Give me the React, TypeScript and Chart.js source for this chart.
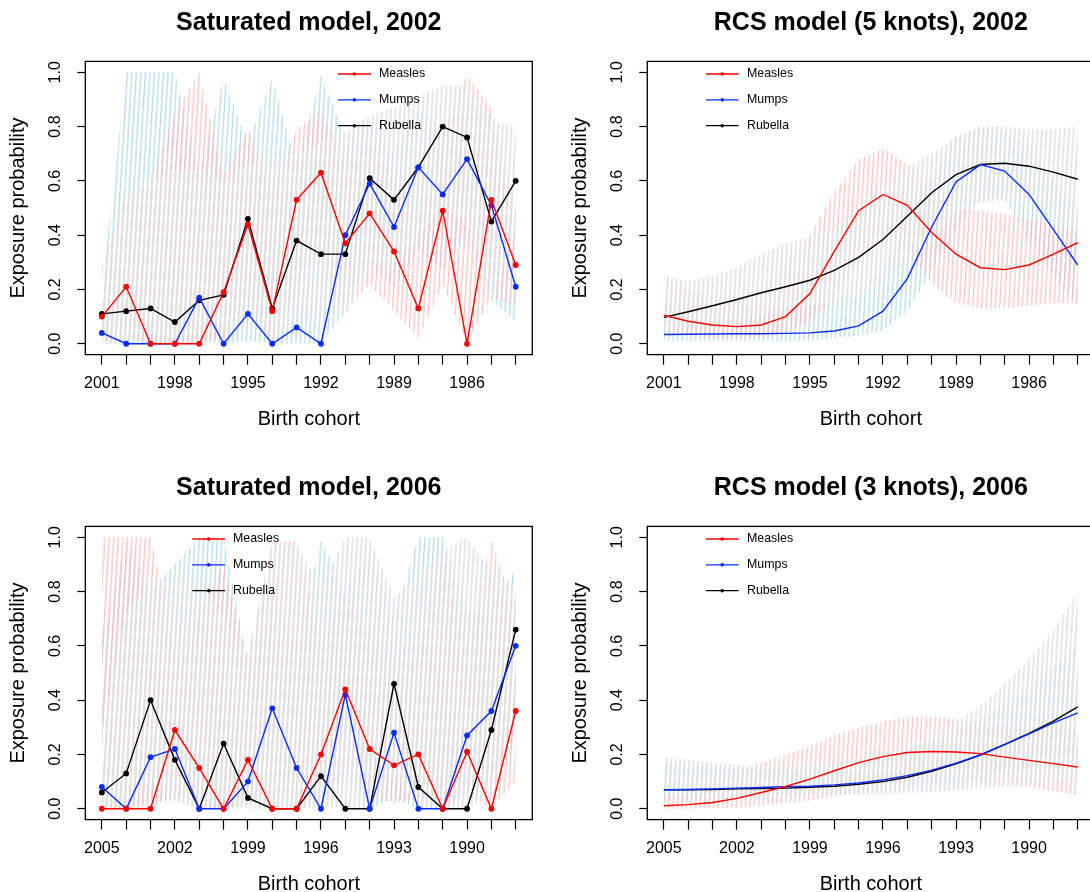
import React, { useEffect, useRef } from "react";
import { Chart, registerables } from "chart.js";

Chart.register(...registerables);

// ---------------- categories / ticks ----------------
const cohorts2002 = [2001, 2000, 1999, 1998, 1997, 1996, 1995, 1994, 1993, 1992, 1991, 1990, 1989, 1988, 1987, 1986, 1985, 1984];
const cohorts2006 = [2005, 2004, 2003, 2002, 2001, 2000, 1999, 1998, 1997, 1996, 1995, 1994, 1993, 1992, 1991, 1990, 1989, 1988];
const yTickValues = [0, 0.2, 0.4, 0.6, 0.8, 1.0];
const seriesNames = ["Measles", "Mumps", "Rubella"];

// ---------------- Saturated model, 2002 ----------------
const sat02Measles = [0.10, 0.21, 0.00, 0.00, 0.00, 0.19, 0.44, 0.12, 0.53, 0.63, 0.37, 0.48, 0.34, 0.13, 0.49, 0.00, 0.53, 0.29];
const sat02Mumps = [0.04, 0.00, 0.00, 0.00, 0.17, 0.00, 0.11, 0.00, 0.06, 0.00, 0.40, 0.59, 0.43, 0.65, 0.55, 0.68, 0.51, 0.21];
const sat02Rubella = [0.11, 0.12, 0.13, 0.08, 0.16, 0.18, 0.46, 0.13, 0.38, 0.33, 0.33, 0.61, 0.53, 0.65, 0.80, 0.76, 0.45, 0.60];
const sat02MeaslesLo = [0.01, 0.03, 0.00, 0.00, 0.00, 0.02, 0.16, 0.01, 0.22, 0.35, 0.12, 0.22, 0.12, 0.02, 0.22, 0.00, 0.17, 0.14];
const sat02MeaslesHi = [0.29, 0.55, 0.58, 0.85, 1.00, 0.62, 0.80, 0.55, 0.79, 0.86, 0.66, 0.75, 0.62, 0.45, 0.78, 0.99, 0.87, 0.50];
const sat02MumpsLo = [0.00, 0.00, 0.00, 0.00, 0.01, 0.00, 0.01, 0.00, 0.00, 0.00, 0.12, 0.30, 0.20, 0.35, 0.27, 0.40, 0.16, 0.08];
const sat02MumpsHi = [0.20, 1.00, 1.00, 1.00, 0.62, 0.98, 0.74, 0.98, 0.66, 0.99, 0.76, 0.82, 0.70, 0.86, 0.80, 0.88, 0.84, 0.42];
const sat02RubellaLo = [0.02, 0.03, 0.04, 0.02, 0.04, 0.05, 0.15, 0.02, 0.10, 0.08, 0.10, 0.30, 0.28, 0.40, 0.50, 0.45, 0.16, 0.40];
const sat02RubellaHi = [0.28, 0.55, 0.60, 0.64, 0.63, 0.60, 0.66, 0.68, 0.70, 0.74, 0.78, 0.84, 0.87, 0.91, 0.95, 0.95, 0.82, 0.80];

// ---------------- RCS model (5 knots), 2002 ----------------
const rcs02Measles = [0.105, 0.083, 0.069, 0.063, 0.069, 0.10, 0.185, 0.34, 0.49, 0.55, 0.51, 0.41, 0.33, 0.28, 0.273, 0.29, 0.33, 0.372];
const rcs02Mumps = [0.034, 0.035, 0.036, 0.037, 0.037, 0.038, 0.040, 0.047, 0.066, 0.12, 0.24, 0.43, 0.596, 0.66, 0.636, 0.55, 0.42, 0.29];
const rcs02Rubella = [0.097, 0.118, 0.14, 0.163, 0.188, 0.21, 0.234, 0.27, 0.318, 0.384, 0.47, 0.556, 0.623, 0.66, 0.665, 0.654, 0.632, 0.606];
const rcs02MeaslesLo = [0.05, 0.03, 0.02, 0.02, 0.02, 0.04, 0.08, 0.17, 0.29, 0.38, 0.35, 0.22, 0.15, 0.13, 0.13, 0.14, 0.15, 0.15];
const rcs02MeaslesHi = [0.26, 0.20, 0.18, 0.18, 0.20, 0.28, 0.40, 0.56, 0.68, 0.72, 0.66, 0.58, 0.50, 0.49, 0.48, 0.46, 0.44, 0.42];
const rcs02MumpsLo = [0.01, 0.01, 0.01, 0.01, 0.01, 0.01, 0.01, 0.02, 0.03, 0.05, 0.12, 0.26, 0.42, 0.53, 0.53, 0.38, 0.25, 0.14];
const rcs02MumpsHi = [0.13, 0.13, 0.13, 0.13, 0.13, 0.14, 0.15, 0.16, 0.19, 0.28, 0.45, 0.62, 0.76, 0.80, 0.78, 0.72, 0.60, 0.50];
const rcs02RubellaLo = [0.05, 0.06, 0.07, 0.08, 0.10, 0.12, 0.14, 0.15, 0.18, 0.22, 0.30, 0.40, 0.48, 0.52, 0.53, 0.52, 0.48, 0.42];
const rcs02RubellaHi = [0.25, 0.23, 0.25, 0.28, 0.33, 0.37, 0.39, 0.43, 0.50, 0.58, 0.65, 0.70, 0.76, 0.80, 0.80, 0.79, 0.79, 0.80];

// ---------------- Saturated model, 2006 ----------------
const sat06Measles = [0.00, 0.00, 0.00, 0.29, 0.15, 0.00, 0.18, 0.00, 0.00, 0.20, 0.44, 0.22, 0.16, 0.20, 0.00, 0.21, 0.00, 0.36];
const sat06Mumps = [0.08, 0.00, 0.19, 0.22, 0.00, 0.00, 0.10, 0.37, 0.15, 0.00, 0.42, 0.00, 0.28, 0.00, 0.00, 0.27, 0.36, 0.60];
const sat06Rubella = [0.06, 0.13, 0.40, 0.18, 0.00, 0.24, 0.04, 0.00, 0.00, 0.12, 0.00, 0.00, 0.46, 0.08, 0.00, 0.00, 0.29, 0.66];
const sat06MeaslesLo = [0.00, 0.00, 0.00, 0.05, 0.01, 0.00, 0.02, 0.00, 0.00, 0.03, 0.15, 0.05, 0.02, 0.04, 0.00, 0.05, 0.00, 0.10];
const sat06MeaslesHi = [1.00, 1.00, 1.00, 0.60, 0.72, 0.90, 0.55, 0.98, 0.99, 0.60, 0.80, 0.62, 0.55, 0.60, 0.93, 0.60, 0.99, 0.72];
const sat06MumpsLo = [0.01, 0.00, 0.03, 0.03, 0.00, 0.00, 0.01, 0.08, 0.02, 0.00, 0.12, 0.00, 0.04, 0.00, 0.00, 0.06, 0.10, 0.25];
const sat06MumpsHi = [0.62, 0.99, 0.80, 0.90, 1.00, 1.00, 0.54, 0.76, 0.60, 0.99, 0.80, 0.95, 0.70, 1.00, 1.00, 0.72, 0.75, 0.88];
const sat06RubellaLo = [0.00, 0.02, 0.10, 0.03, 0.00, 0.04, 0.00, 0.00, 0.00, 0.01, 0.00, 0.00, 0.12, 0.01, 0.00, 0.00, 0.05, 0.40];
const sat06RubellaHi = [0.30, 0.72, 0.84, 0.86, 0.85, 0.70, 0.57, 0.98, 0.97, 0.82, 1.00, 1.00, 0.78, 0.85, 0.95, 1.00, 0.87, 0.80];

// ---------------- RCS model (3 knots), 2006 ----------------
const rcs06Measles = [0.011, 0.015, 0.023, 0.038, 0.06, 0.082, 0.109, 0.14, 0.17, 0.192, 0.207, 0.211, 0.209, 0.203, 0.19, 0.178, 0.166, 0.154];
const rcs06Mumps = [0.07, 0.071, 0.073, 0.076, 0.078, 0.081, 0.083, 0.088, 0.095, 0.106, 0.122, 0.142, 0.168, 0.198, 0.236, 0.276, 0.316, 0.353];
const rcs06Rubella = [0.07, 0.07, 0.071, 0.073, 0.074, 0.076, 0.079, 0.083, 0.09, 0.10, 0.116, 0.138, 0.165, 0.198, 0.237, 0.278, 0.323, 0.375];
const rcs06MeaslesLo = [0.00, 0.00, 0.002, 0.005, 0.01, 0.02, 0.03, 0.045, 0.06, 0.08, 0.10, 0.12, 0.12, 0.10, 0.09, 0.08, 0.065, 0.05];
const rcs06MeaslesHi = [0.05, 0.07, 0.10, 0.14, 0.17, 0.20, 0.23, 0.27, 0.30, 0.32, 0.34, 0.34, 0.33, 0.32, 0.31, 0.30, 0.30, 0.30];
const rcs06MumpsLo = [0.03, 0.035, 0.04, 0.042, 0.045, 0.048, 0.05, 0.053, 0.057, 0.062, 0.07, 0.08, 0.095, 0.11, 0.13, 0.15, 0.17, 0.19];
const rcs06MumpsHi = [0.17, 0.16, 0.155, 0.15, 0.15, 0.155, 0.16, 0.17, 0.18, 0.20, 0.22, 0.25, 0.29, 0.33, 0.38, 0.44, 0.52, 0.60];
const rcs06RubellaLo = [0.05, 0.048, 0.046, 0.045, 0.045, 0.046, 0.047, 0.05, 0.052, 0.055, 0.058, 0.062, 0.067, 0.073, 0.08, 0.088, 0.097, 0.107];
const rcs06RubellaHi = [0.19, 0.18, 0.17, 0.16, 0.155, 0.155, 0.16, 0.17, 0.185, 0.20, 0.23, 0.27, 0.32, 0.38, 0.46, 0.55, 0.66, 0.80];

// ---------------- panels (built from the arrays above) ----------------
const panels = [
  {
    title: "Saturated model, 2002", cohorts: cohorts2002, points: true,
    values: [sat02Measles, sat02Mumps, sat02Rubella],
    lower: [sat02MeaslesLo, sat02MumpsLo, sat02RubellaLo],
    upper: [sat02MeaslesHi, sat02MumpsHi, sat02RubellaHi],
  },
  {
    title: "RCS model (5 knots), 2002", cohorts: cohorts2002, points: false,
    values: [rcs02Measles, rcs02Mumps, rcs02Rubella],
    lower: [rcs02MeaslesLo, rcs02MumpsLo, rcs02RubellaLo],
    upper: [rcs02MeaslesHi, rcs02MumpsHi, rcs02RubellaHi],
  },
  {
    title: "Saturated model, 2006", cohorts: cohorts2006, points: true,
    values: [sat06Measles, sat06Mumps, sat06Rubella],
    lower: [sat06MeaslesLo, sat06MumpsLo, sat06RubellaLo],
    upper: [sat06MeaslesHi, sat06MumpsHi, sat06RubellaHi],
  },
  {
    title: "RCS model (3 knots), 2006", cohorts: cohorts2006, points: false,
    values: [rcs06Measles, rcs06Mumps, rcs06Rubella],
    lower: [rcs06MeaslesLo, rcs06MumpsLo, rcs06RubellaLo],
    upper: [rcs06MeaslesHi, rcs06MumpsHi, rcs06RubellaHi],
  },
];

// ---------------- layout & style ----------------
const FONT = "'Liberation Sans', Arial, Helvetica, sans-serif";
const PANEL_W = 562;
const PANEL_H = 465;
const panelLayout = [
  { left: 0, top: 0, legend: { lineStart: 252.4, lineEnd: 285.7, textStart: 293.7 } },
  { left: 562, top: 0, legend: { lineStart: 58.6, lineEnd: 91.3, textStart: 99.7 } },
  { left: 0, top: 465, legend: { lineStart: 107, lineEnd: 139.7, textStart: 147.7 } },
  { left: 562, top: 465, legend: { lineStart: 58.6, lineEnd: 91.3, textStart: 99.7 } },
];
const legendRows = [12.6, 38.45, 64.3];
const lineColors = ["#ff0000", "#0a2cff", "#000000"];
// hatch line colours / widths for Measles, Mumps, Rubella bands
const hatchColors = ["#ffb8b8", "#a6d6e8", "#e1e3e5"];
const hatchWidths = [1.1, 1.1, 1.8];
const bandOrder = [2, 3, 1]; // mumps drawn first, then measles, rubella on top

function makeHatch(ctx: CanvasRenderingContext2D, color: string, width: number) {
  const tile = document.createElement("canvas");
  tile.width = 45;
  tile.height = 4;
  const t = tile.getContext("2d")!;
  t.fillStyle = color;
  for (let k = 0; k < 10; k++) t.fillRect(k * 4.5 + 1.1 - width / 2, 0, width, 4);
  const pat = ctx.createPattern(tile, "repeat")!;
  pat.setTransform(new DOMMatrix().rotateSelf(3.5));
  return pat;
}

const rLegendPlugin = {
  id: "rLegend",
  afterDraw(chart: any, _args: any, opts: any) {
    if (!opts || opts.lineStart === undefined) return;
    const { ctx, chartArea } = chart;
    const series = chart.data.datasets.filter((d: any) => d.isSeries);
    ctx.save();
    ctx.font = `12.4px ${FONT}`;
    ctx.textBaseline = "middle";
    ctx.textAlign = "left";
    series.forEach((d: any, k: number) => {
      const y = chartArea.top + legendRows[k];
      const x1 = chartArea.left + opts.lineStart;
      const x2 = chartArea.left + opts.lineEnd;
      ctx.strokeStyle = d.borderColor;
      ctx.lineWidth = 1.3;
      ctx.beginPath();
      ctx.moveTo(x1, y);
      ctx.lineTo(x2, y);
      ctx.stroke();
      ctx.fillStyle = d.borderColor;
      ctx.beginPath();
      ctx.arc((x1 + x2) / 2, y, 1.8, 0, Math.PI * 2);
      ctx.fill();
      ctx.fillStyle = "#000";
      ctx.fillText(d.label, chartArea.left + opts.textStart, y);
    });
    ctx.restore();
  },
};

const boxPlugin = {
  id: "rBox",
  afterDraw(chart: any) {
    const { ctx, chartArea } = chart;
    ctx.save();
    ctx.strokeStyle = "#000";
    ctx.lineWidth = 1.3;
    ctx.strokeRect(chartArea.left, chartArea.top, chartArea.right - chartArea.left, chartArea.bottom - chartArea.top);
    ctx.restore();
  },
};

function buildConfig(p: any, layout: any, ctx: CanvasRenderingContext2D): any {
  const datasets: any[] = [];
  seriesNames.forEach((name, s) => {
    datasets.push({
      label: name,
      isSeries: true,
      data: p.cohorts.map((c: number, i: number) => ({ x: c, y: p.values[s][i] })),
      borderColor: lineColors[s],
      backgroundColor: lineColors[s],
      pointBackgroundColor: lineColors[s],
      borderWidth: 1.4,
      pointRadius: p.points ? 2.9 : 0,
      pointBorderWidth: 0,
      fill: false,
      tension: 0,
      order: 0,
    });
  });
  seriesNames.forEach((name, s) => {
    datasets.push({
      label: name + " upper",
      data: p.cohorts.map((c: number, i: number) => ({ x: c, y: p.upper[s][i] })),
      borderColor: "rgba(0,0,0,0)",
      borderWidth: 0,
      pointRadius: 0,
      backgroundColor: makeHatch(ctx, hatchColors[s], hatchWidths[s]),
      fill: "+1",
      tension: 0,
      order: bandOrder[s],
    });
    datasets.push({
      label: name + " lower",
      data: p.cohorts.map((c: number, i: number) => ({ x: c, y: p.lower[s][i] })),
      borderColor: "rgba(0,0,0,0)",
      borderWidth: 0,
      pointRadius: 0,
      fill: false,
      tension: 0,
      order: bandOrder[s],
    });
  });

  const first = p.cohorts[0];
  const last = p.cohorts[p.cohorts.length - 1];
  const pad = (first - last) * 0.04;

  return {
    type: "line",
    data: { datasets },
    plugins: [rLegendPlugin, boxPlugin],
    options: {
      responsive: false,
      maintainAspectRatio: false,
      animation: false,
      devicePixelRatio: 1,
      events: [],
      layout: { padding: { left: 0, top: 0, right: PANEL_W - 532.3, bottom: 0 } },
      plugins: {
        legend: { display: false },
        tooltip: { enabled: false },
        title: {
          display: true,
          text: p.title,
          color: "#000",
          fullSize: false,
          font: { family: FONT, size: 25, weight: "bold" },
          padding: { top: 8.3, bottom: 23.1 },
        },
        rLegend: layout.legend,
      },
      scales: {
        x: {
          type: "linear",
          reverse: true,
          min: last - pad,
          max: first + pad,
          afterBuildTicks: (s: any) => {
            s.ticks = p.cohorts.map((v: number) => ({ value: v }));
          },
          afterFit: (s: any) => {
            s.height = PANEL_H - 354.6;
          },
          ticks: {
            autoSkip: false,
            maxRotation: 0,
            minRotation: 0,
            padding: 9.5,
            color: "#000",
            font: { family: FONT, size: 16 },
            callback: (v: any) => ((first - Number(v)) % 3 === 0 ? String(v) : ""),
          },
          grid: { display: true, drawOnChartArea: false, drawTicks: true, tickLength: 10, tickColor: "#000", tickWidth: 1.2 },
          border: { display: false },
          title: {
            display: true,
            text: "Birth cohort",
            color: "#000",
            font: { family: FONT, size: 20 },
            padding: { top: 0, bottom: 33.9 },
          },
        },
        y: {
          type: "linear",
          min: -0.04,
          max: 1.04,
          afterBuildTicks: (s: any) => {
            s.ticks = yTickValues.map((v) => ({ value: v }));
          },
          afterFit: (s: any) => {
            s.width = 85.3;
          },
          ticks: {
            minRotation: 90,
            maxRotation: 90,
            crossAlign: "center",
            padding: 11,
            color: "#000",
            font: { family: FONT, size: 16 },
            callback: (v: any) => Number(v).toFixed(1),
          },
          grid: { display: true, drawOnChartArea: false, drawTicks: true, tickLength: 8, tickColor: "#000", tickWidth: 1.2 },
          border: { display: false },
          title: {
            display: true,
            text: "Exposure probability",
            color: "#000",
            font: { family: FONT, size: 20 },
            padding: { top: 6.1, bottom: 0 },
          },
        },
      },
    },
  };
}

function Panel({ index }: { index: number }) {
  const ref = useRef<HTMLCanvasElement>(null);
  const layout = panelLayout[index];
  useEffect(() => {
    const canvas = ref.current!;
    const ctx = canvas.getContext("2d")!;
    const chart = new Chart(canvas, buildConfig(panels[index], layout, ctx));
    return () => chart.destroy();
  }, [index]);
  return (
    <canvas
      ref={ref}
      width={PANEL_W}
      height={PANEL_H}
      style={{ position: "absolute", left: layout.left, top: layout.top, width: PANEL_W, height: PANEL_H }}
    />
  );
}

export default function App() {
  return (
    <div
      style={{
        position: "absolute",
        left: 0,
        top: 0,
        width: 1090,
        height: 892,
        overflow: "hidden",
        background: "#fff",
      }}
    >
      {panels.map((_, i) => (
        <Panel key={i} index={i} />
      ))}
    </div>
  );
}
